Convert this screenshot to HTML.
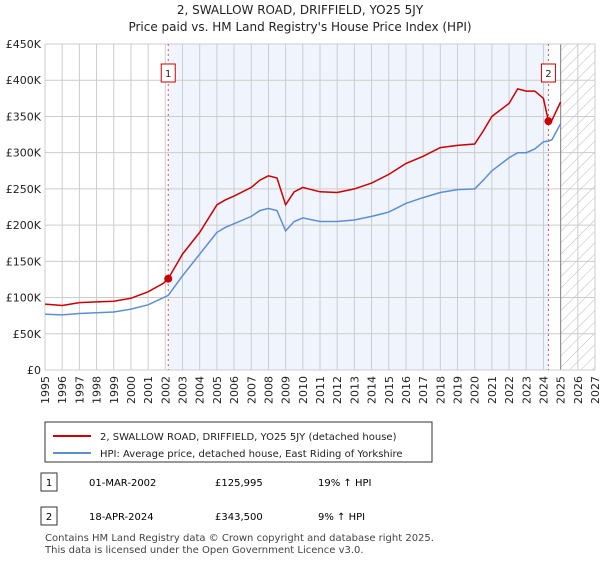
<!DOCTYPE html>
<html><head><meta charset="utf-8"><style>
body{margin:0;background:#fff;font-family:"Liberation Sans","DejaVu Sans",sans-serif;}
svg text{font-family:"DejaVu Sans","Liberation Sans",sans-serif;}
</style></head><body>
<svg id="c" width="600" height="560" xmlns="http://www.w3.org/2000/svg">
<defs><pattern id="hatch" width="8" height="8" patternUnits="userSpaceOnUse" patternTransform="rotate(45)"><line x1="0" y1="0" x2="0" y2="8" stroke="#bbb" stroke-width="1"/></pattern></defs>
<text x="300" y="14" text-anchor="middle" font-size="12" fill="#222">2, SWALLOW ROAD, DRIFFIELD, YO25 5JY</text>
<text x="300" y="31" text-anchor="middle" font-size="12" fill="#222">Price paid vs. HM Land Registry's House Price Index (HPI)</text>
<g id="plot"></g>
<rect x="45" y="422" width="387" height="40" fill="#fff" stroke="#333"/>
<line x1="53" y1="436" x2="91" y2="436" stroke="#cc0000" stroke-width="2"/>
<text x="100" y="440" font-size="10" fill="#222">2, SWALLOW ROAD, DRIFFIELD, YO25 5JY (detached house)</text>
<line x1="53" y1="453" x2="91" y2="453" stroke="#5b8fd4" stroke-width="2"/>
<text x="100" y="457" font-size="10" fill="#222">HPI: Average price, detached house, East Riding of Yorkshire</text>
<rect x="41" y="473" width="16" height="18" fill="#fff" stroke="#333"/>
<text x="49" y="486" text-anchor="middle" font-size="10">1</text>
<text x="89" y="486" font-size="10">01-MAR-2002</text>
<text x="215" y="486" font-size="10">£125,995</text>
<text x="318" y="486" font-size="10">19% ↑ HPI</text>
<rect x="41" y="507" width="16" height="18" fill="#fff" stroke="#333"/>
<text x="49" y="520" text-anchor="middle" font-size="10">2</text>
<text x="89" y="520" font-size="10">18-APR-2024</text>
<text x="215" y="520" font-size="10">£343,500</text>
<text x="318" y="520" font-size="10">9% ↑ HPI</text>
<text x="45" y="541" font-size="10" fill="#444">Contains HM Land Registry data © Crown copyright and database right 2025.</text>
<text x="45" y="553" font-size="10" fill="#444">This data is licensed under the Open Government Licence v3.0.</text>
</svg>
<script>
const years=[1995,1996,1997,1998,1999,2000,2001,2001.9,2002.17,2003,2004,2005,2005.5,2006,2007,2007.5,2008,2008.5,2009,2009.5,2010,2011,2012,2013,2014,2015,2016,2017,2018,2019,2020,2020.5,2021,2022,2022.5,2023,2023.5,2024,2024.29,2024.5,2025];
const hpi=[77,76,78,79,80,84,90,100,103,130,160,190,197,202,212,220,223,220,192,205,210,205,205,207,212,218,230,238,245,249,250,262,275,293,300,300,305,315,316,318,340];
const red=[91,89,93,94,95,99,108,120,126,160,190,228,235,240,252,262,268,265,228,246,252,246,245,250,258,270,285,295,307,310,312,330,350,368,388,385,385,375,343.5,345,370];
const sales=[{n:"1",t:2002.17,v:125.995},{n:"2",t:2024.29,v:343.5}];
const yTicks=[0,50,100,150,200,250,300,350,400,450];
const xTicks=[1995,1996,1997,1998,1999,2000,2001,2002,2003,2004,2005,2006,2007,2008,2009,2010,2011,2012,2013,2014,2015,2016,2017,2018,2019,2020,2021,2022,2023,2024,2025,2026,2027];
const X0=45,X1=595,Y0=370,Y1=44;
const xs=t=>X0+(t-1995)/(2027-1995)*(X1-X0);
const ys=v=>Y0-v/450*(Y0-Y1);
const g=document.getElementById('plot');const NS="http://www.w3.org/2000/svg";
function mk(tag,a,txt){const e=document.createElementNS(NS,tag);for(const k in a)e.setAttribute(k,a[k]);if(txt!==undefined)e.textContent=txt;g.appendChild(e);return e;}
let e;
e=mk('rect',{x:xs(sales[0].t),y:Y1,width:xs(sales[1].t)-xs(sales[0].t),height:Y0-Y1,fill:'#f0f4fc'});


e=mk('rect',{x:xs(2025),y:Y1,width:X1-xs(2025),height:Y0-Y1,fill:'url(#hatch)'});


yTicks.forEach(v=>{
 e=mk('line',{x1:X0,x2:X1,y1:ys(v),y2:ys(v),stroke:'#ccc'});
 
 
 e=mk('text',{x:X0-4,y:ys(v)+4,'text-anchor':'end','font-size':'11',fill:'#222'},v===0?'£0':'£'+v+'K');
 
 
});
xTicks.forEach(t=>{
 e=mk('line',{x1:xs(t),x2:xs(t),y1:Y1,y2:Y0,stroke:'#ccc'});
 
 
 const x=xs(t)+4,y=Y0+6;
 e=mk('text',{x:x,y:y,'text-anchor':'end','font-size':'11',fill:'#222',transform:'rotate(-90 '+x+' '+y+')'},String(t));
 
 
});
e=mk('line',{x1:xs(2025),x2:xs(2025),y1:Y1,y2:Y0,stroke:'#888'});


e=mk('rect',{x:X0,y:Y1,width:X1-X0,height:Y0-Y1,fill:'none',stroke:'#ccc'});


sales.forEach(s=>{
 e=mk('line',{x1:xs(s.t),x2:xs(s.t),y1:Y1,y2:Y0,stroke:'#e05050','stroke-dasharray':'2,3'});
 
 
});
const path=arr=>arr.map((v,i)=>(i?'L':'M')+xs(years[i]).toFixed(1)+','+ys(v).toFixed(1)).join('');
e=mk('path',{d:path(hpi),fill:'none',stroke:'#5b8fd4','stroke-width':'1.5'});


e=mk('path',{d:path(red),fill:'none',stroke:'#cc0000','stroke-width':'1.5'});


sales.forEach(s=>{
 e=mk('circle',{cx:xs(s.t),cy:ys(s.v),r:4,fill:'#cc0000'});
 
 
 e=mk('rect',{x:xs(s.t)-7,y:64,width:14,height:18,fill:'#fff',stroke:'#cc0000'});
 
 
 e=mk('text',{x:xs(s.t),y:77,'text-anchor':'middle','font-size':'10',fill:'#222'},s.n);
 
 
});
</script>
</body></html>
